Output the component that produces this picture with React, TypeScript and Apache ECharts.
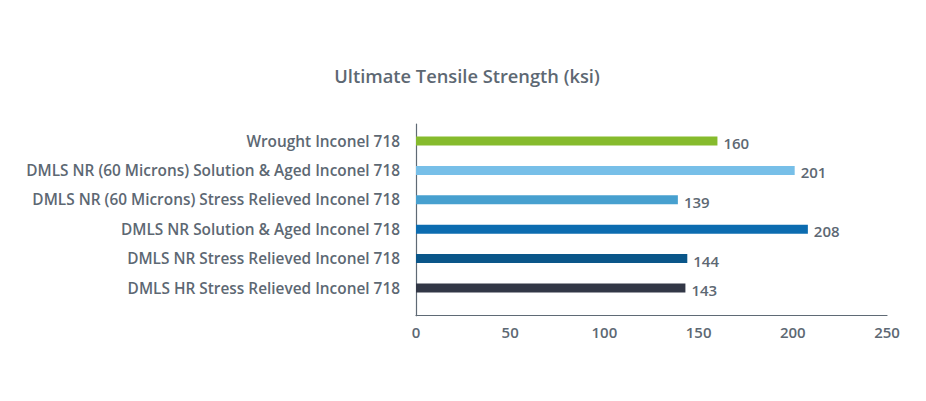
import React, { useEffect, useRef } from "react";
import * as echarts from "echarts";

const categories = [
  "Wrought Inconel 718",
  "DMLS NR (60 Microns) Solution & Aged Inconel 718",
  "DMLS NR (60 Microns) Stress Relieved Inconel 718",
  "DMLS NR Solution & Aged Inconel 718",
  "DMLS NR Stress Relieved Inconel 718",
  "DMLS HR Stress Relieved Inconel 718",
];
const values = [160, 201, 139, 208, 144, 143];
const barColors = ["#86bb2d", "#77bfe8", "#47a0cf", "#0c6cb0", "#0a5689", "#323746"];
const title = "Ultimate Tensile Strength (ksi)";
const xMin = 0;
const xMax = 250;
const xInterval = 50;

const TEXT = "#5d6873";
const FONT = "'Open Sans', sans-serif";

export default function App() {
  const ref = useRef<HTMLDivElement>(null);
  useEffect(() => {
    if (!ref.current) return;
    const chart = echarts.init(ref.current, null, { renderer: "svg" });
    chart.setOption({
      animation: false,
      backgroundColor: "#ffffff",
      title: {
        text: title,
        left: 462,
        top: 61,
        textAlign: "center",
        textStyle: { color: TEXT, fontFamily: FONT, fontSize: 18.3, fontWeight: 600 },
      },
      grid: [
        { left: 416, right: 39, top: 126.3, height: 176.4, containLabel: false },
        { left: 416, right: 39, top: 124, height: 191.7, containLabel: false },
      ],
      xAxis: [
        {
          gridIndex: 0,
          type: "value",
          min: xMin,
          max: xMax,
          interval: xInterval,
          show: false,
        },
        {
          gridIndex: 1,
          type: "value",
          min: xMin,
          max: xMax,
          interval: xInterval,
          axisLine: { show: true, lineStyle: { color: "#5f6a75", width: 1.2 } },
          axisTick: { show: false },
          splitLine: { show: false },
          axisLabel: { color: TEXT, fontFamily: FONT, fontSize: 15, fontWeight: 600, margin: 9 },
        },
      ],
      yAxis: [
        {
          gridIndex: 0,
          type: "category",
          data: categories,
          inverse: true,
          axisLine: { show: false },
          axisTick: { show: false },
          axisLabel: { color: TEXT, fontFamily: FONT, fontSize: 15.4, fontWeight: 600, margin: 16 },
        },
        {
          gridIndex: 1,
          type: "category",
          data: [""],
          axisLine: { show: true, lineStyle: { color: "#5f6a75", width: 1.2 } },
          axisTick: { show: false },
          axisLabel: { show: false },
        },
      ],
      series: [
        {
          type: "bar",
          xAxisIndex: 0,
          yAxisIndex: 0,
          barWidth: 9,
          data: values.map((v, i) => ({ value: v, itemStyle: { color: barColors[i] } })),
          label: {
            show: true,
            position: "right",
            distance: 6,
            color: TEXT,
            fontFamily: FONT,
            fontSize: 15,
            fontWeight: 600,
            offset: [0, 2],
          },
        },
      ],
    });
    return () => chart.dispose();
  }, []);
  return (
    <div
      ref={ref}
      style={{ position: "fixed", left: 0, top: 0, width: 926, height: 401 }}
    />
  );
}
